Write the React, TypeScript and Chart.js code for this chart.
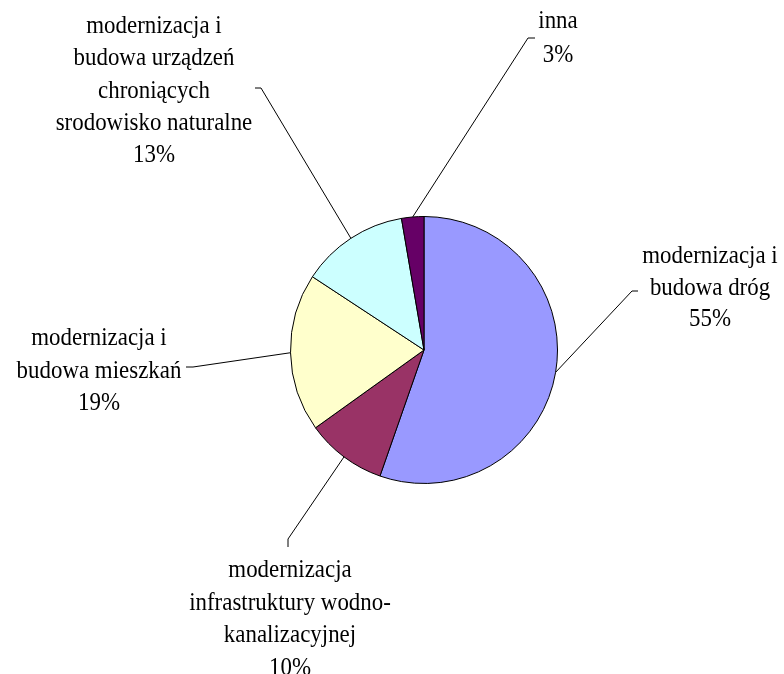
import React, { useEffect, useRef } from "react";
import { Chart, registerables } from "chart.js";

Chart.register(...registerables);

const categories: string[][] = [
  ["modernizacja i", "budowa dróg"],
  ["modernizacja", "infrastruktury wodno-", "kanalizacyjnej"],
  ["modernizacja i", "budowa mieszkań"],
  ["modernizacja i", "budowa urządzeń", "chroniących", "srodowisko naturalne"],
  ["inna"],
];
const values: number[] = [55.35, 9.75, 19.15, 13.05, 2.7];
const colors: string[] = ["#9999FF", "#993366", "#FFFFCC", "#CCFFFF", "#660066"];

// label layout: text block center x, first line baseline y, line spacing, leader end points near label
const labelLayout = [
  { x: 710, y: 263, lh: 31.5, elbow: [632, 291], tick: [638, 291] },
  { x: 290, y: 577, lh: 32.5, elbow: [288, 539], tick: [288, 547] },
  { x: 99, y: 345, lh: 32.5, elbow: [193, 367], tick: [186, 367] },
  { x: 154, y: 33, lh: 32.3, elbow: [261, 88], tick: [255, 88] },
  { x: 558, y: 28, lh: 33.5, elbow: [528, 38], tick: [535, 38] },
];
const FONT_PX = 24.5;
const SCALE_X = 0.935;

const labelPlugin = {
  id: "pieLabels",
  afterDraw(chart: any) {
    const ctx = chart.ctx;
    const meta = chart.getDatasetMeta(0);
    const data = chart.data.datasets[0].data as number[];
    const total = data.reduce((a, b) => a + b, 0);
    ctx.save();
    ctx.font = `${FONT_PX}px "Liberation Serif", "Times New Roman", serif`;
    ctx.fillStyle = "#000";
    ctx.textAlign = "center";
    ctx.textBaseline = "alphabetic";
    ctx.strokeStyle = "#000";
    ctx.lineWidth = 1;
    meta.data.forEach((arc: any, i: number) => {
      const { x, y, startAngle, endAngle, outerRadius } = arc.getProps(
        ["x", "y", "startAngle", "endAngle", "outerRadius"],
        true
      );
      const mid = (startAngle + endAngle) / 2;
      const px = x + Math.cos(mid) * outerRadius;
      const py = y + Math.sin(mid) * outerRadius;
      const L = labelLayout[i];
      ctx.beginPath();
      ctx.moveTo(px, py);
      ctx.lineTo(L.elbow[0], L.elbow[1]);
      ctx.lineTo(L.tick[0], L.tick[1]);
      ctx.stroke();
      const lines = [...categories[i], Math.round((data[i] / total) * 100) + "%"];
      lines.forEach((t, k) => {
        ctx.save();
        ctx.translate(L.x, L.y + k * L.lh);
        ctx.scale(SCALE_X, 1);
        ctx.fillText(t, 0, 0);
        ctx.restore();
      });
    });
    ctx.restore();
  },
};

export default function App() {
  const ref = useRef<HTMLCanvasElement>(null);
  useEffect(() => {
    document.body.style.margin = "0";
    const chart = new Chart(ref.current!, {
      type: "pie",
      data: {
        labels: categories.map((c) => c.join(" ")),
        datasets: [
          {
            data: values,
            backgroundColor: colors,
            borderColor: "#000",
            borderWidth: 1,
          },
        ],
      },
      options: {
        responsive: false,
        animation: false,
        layout: { padding: { left: 290, right: 226, top: 216, bottom: 190 } },
        plugins: {
          legend: { display: false },
          tooltip: { enabled: false },
        },
      },
      plugins: [labelPlugin],
    });
    return () => chart.destroy();
  }, []);
  return (
    <div style={{ width: 784, height: 674, background: "#fff" }}>
      <canvas ref={ref} width={784} height={674} />
    </div>
  );
}
